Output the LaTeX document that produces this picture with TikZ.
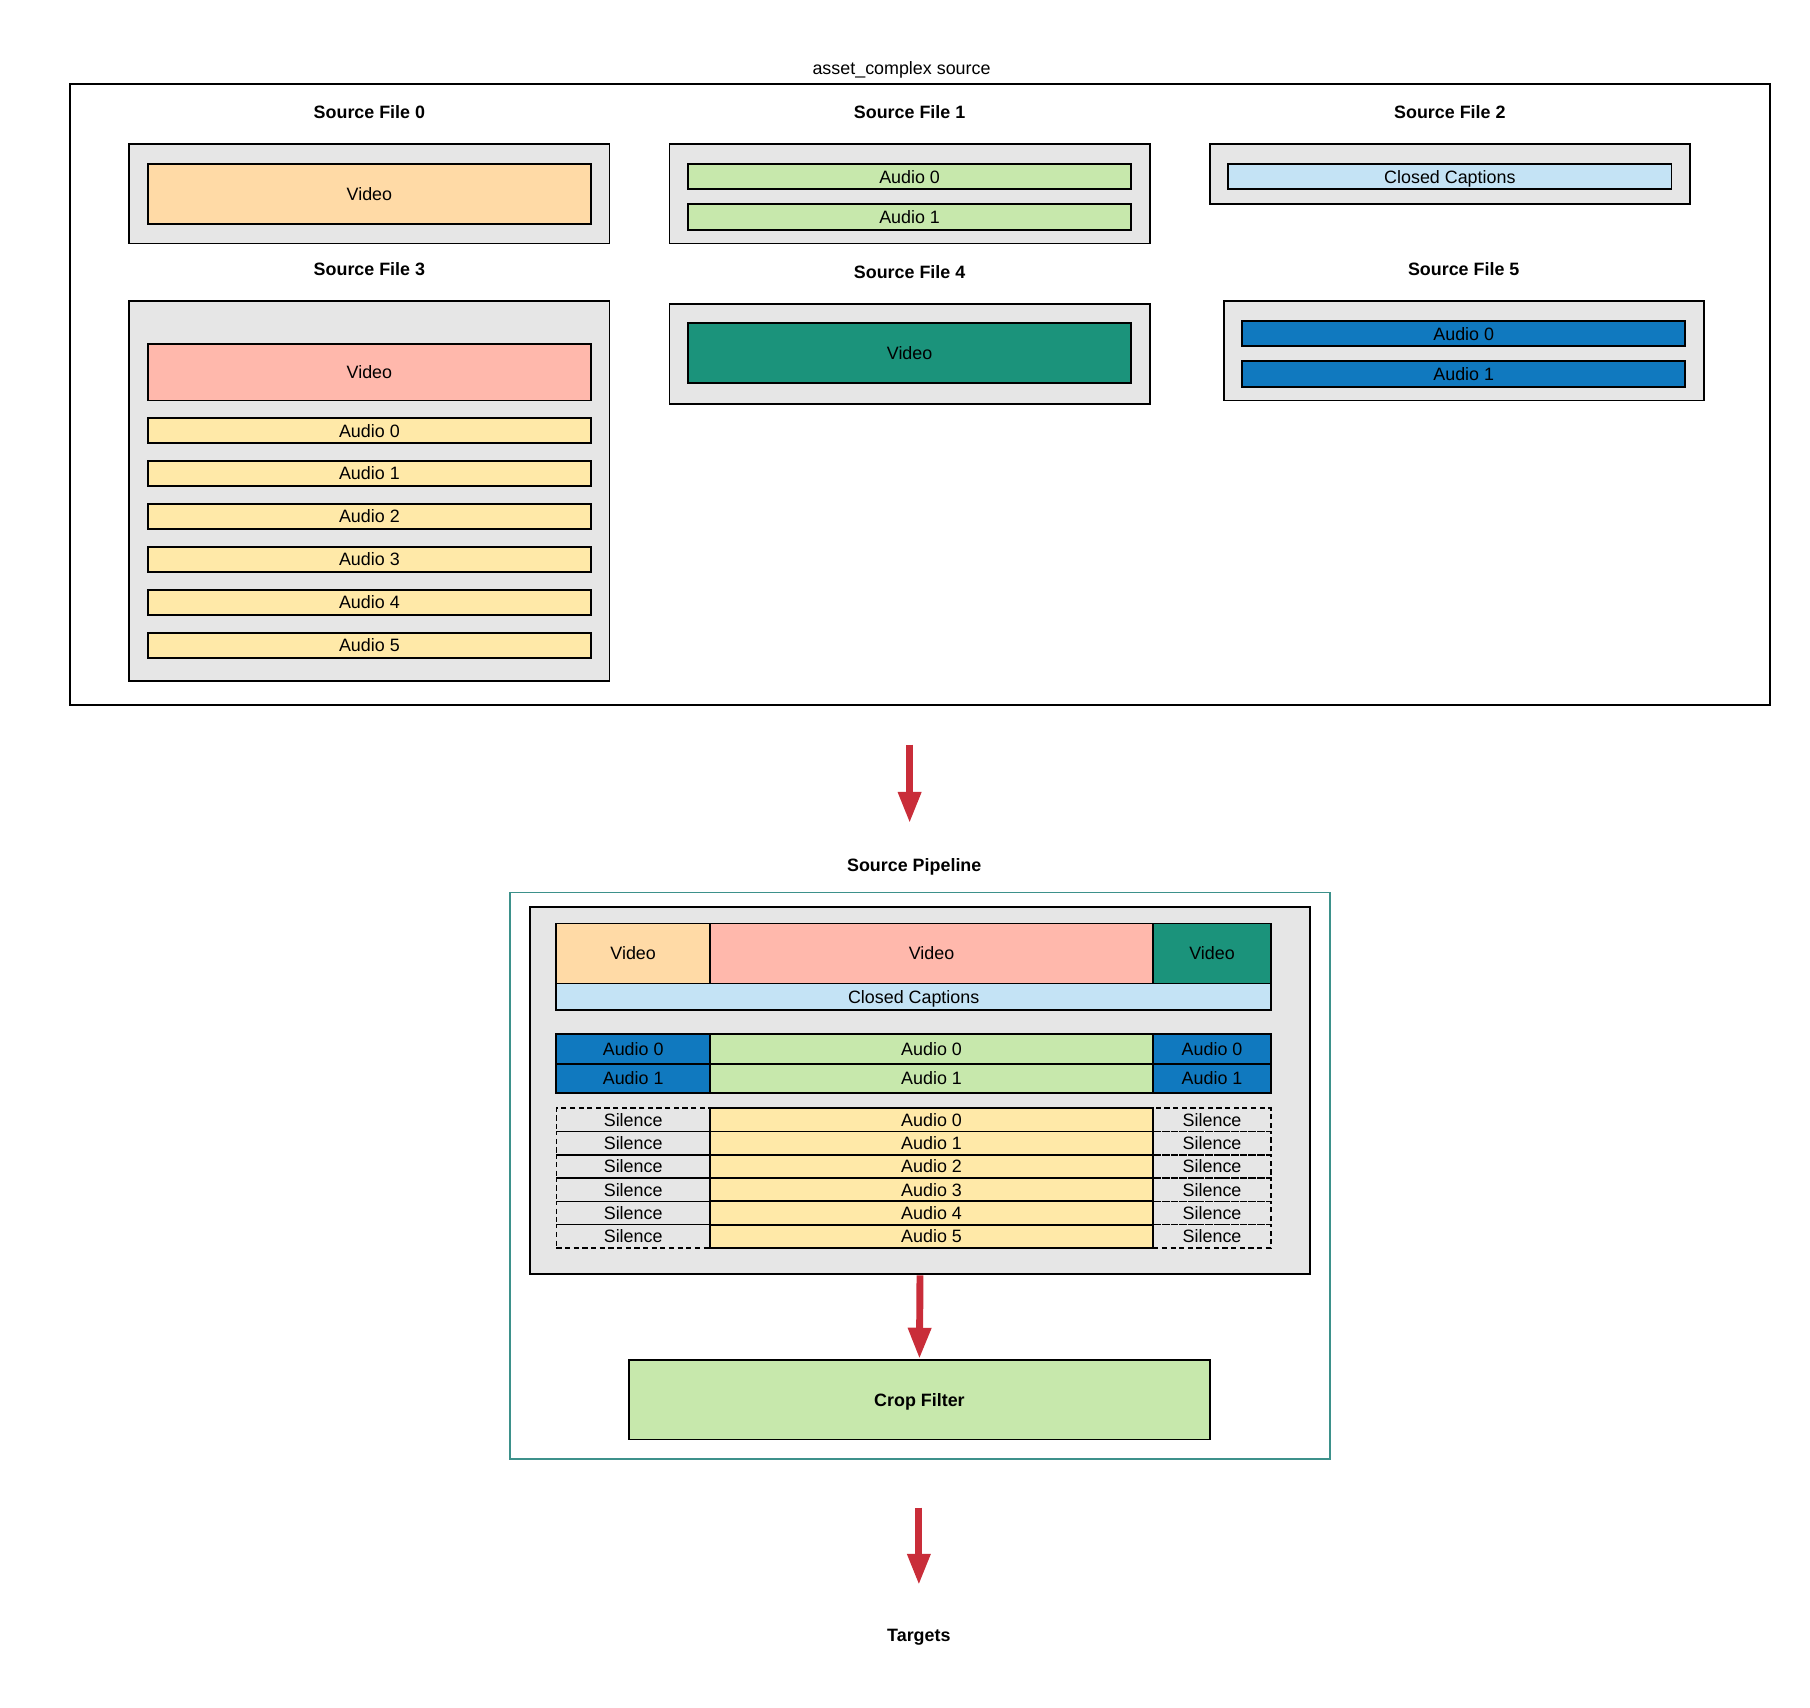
\documentclass[tikz,border=0pt]{standalone}
\usepackage{fontspec}
\setmainfont{Liberation Sans}
\usetikzlibrary{arrows.meta}
\definecolor{boxgray}{HTML}{E6E6E6}
\definecolor{vidorange}{HTML}{FFDAA6}
\definecolor{vidsalmon}{HTML}{FFB8AC}
\definecolor{vidteal}{HTML}{1B937B}
\definecolor{audgreen}{HTML}{C7E8AC}
\definecolor{audblue}{HTML}{1079BF}
\definecolor{audyellow}{HTML}{FFE9A8}
\definecolor{ccblue}{HTML}{C4E3F5}
\definecolor{arrowred}{HTML}{C92D39}
\definecolor{pipeteal}{HTML}{3D918B}
\tikzset{
  sfbox/.style={draw=black, fill=boxgray, line width=1.6pt, inner sep=0pt},
  sftrack/.style={draw=black, line width=1.6pt, inner sep=0pt, minimum height=22},
  sfsilence/.style={draw=black, line width=1.3pt, dash pattern=on 4.5pt off 3pt, inner sep=0pt, minimum height=20.17},
  sftitle/.style={font=\fontsize{15.5}{18}\selectfont\bfseries},
  redarrow/.style={draw=arrowred, line width=6pt, -{Triangle[width=19pt,length=27pt]}},
  every node/.style={font=\fontsize{15.5}{18}\selectfont, text depth=0pt}
}

\begin{document}
\begin{tikzpicture}[x=1pt,y=-1pt]
\useasboundingbox (0,0) rectangle (1568,1479);

\node (srctitle) at (781,59) {asset\_complex source};
\node[draw=black, line width=1.6pt, minimum width=1472, minimum height=538, inner sep=0pt] (src) at (797,342) {};

\node[sftitle] (sf0t) at (320,97) {Source File 0};
\node[sfbox, minimum width=416, minimum height=86] (sf0) at (320,168) {};
\node[sftrack, fill=vidorange, minimum width=384, minimum height=52] (sf0v) at (320,168) {Video};

\node[sftitle] (sf1t) at (788,97) {Source File 1};
\node[sfbox, minimum width=416, minimum height=86] (sf1) at (788,168) {};
\node[sftrack, fill=audgreen, minimum width=384] (sf1a0) at (788,153) {Audio 0};
\node[sftrack, fill=audgreen, minimum width=384] (sf1a1) at (788,188) {Audio 1};

\node[sftitle] (sf2t) at (1256,97) {Source File 2};
\node[sfbox, minimum width=416, minimum height=52] (sf2) at (1256,151) {};
\node[sftrack, fill=ccblue, minimum width=384] (sf2cc) at (1256,153) {Closed Captions};

\node[sftitle] (sf3t) at (320,233) {Source File 3};
\node[sfbox, minimum width=416, minimum height=329] (sf3) at (320,425.5) {};
\node[sftrack, fill=vidsalmon, minimum width=384, minimum height=49] (sf3v) at (320,322.5) {Video};
\foreach \i/\y in {0/373,1/410.2,2/447.4,3/484.6,4/521.8,5/559}
  \node[sftrack, fill=audyellow, minimum width=384] (sf3a\i) at (320,\y) {Audio \i};

\node[sftitle] (sf4t) at (788,236) {Source File 4};
\node[sfbox, minimum width=416, minimum height=87] (sf4) at (788,306.5) {};
\node[sftrack, fill=vidteal, minimum width=384, minimum height=52] (sf4v) at (788,306) {Video};

\node[sftitle] (sf5t) at (1268,233) {Source File 5};
\node[sfbox, minimum width=416, minimum height=86] (sf5) at (1268,304) {};
\node[sftrack, fill=audblue, minimum width=384] (sf5a0) at (1268,289) {Audio 0};
\node[sftrack, fill=audblue, minimum width=384] (sf5a1) at (1268,324) {Audio 1};

\coordinate (a1s) at (788,645);
\coordinate (a1e) at (788,713);
\draw[redarrow] (a1s) -- (a1e);

\node[sftitle] (pipet) at (792,749) {Source Pipeline};
\node[draw=pipeteal, line width=1.4pt, minimum width=710, minimum height=491, inner sep=0pt] (pipeline) at (797,1018.5) {};
\node[sfbox, minimum width=676, minimum height=318] (pipe) at (797,945) {};

\node[sftrack, fill=vidorange, minimum width=133, minimum height=52] (pv0) at (548.5,826) {Video};
\node[sftrack, fill=vidsalmon, minimum width=384, minimum height=52] (pv3) at (807,826) {Video};
\node[sftrack, fill=vidteal, minimum width=102, minimum height=52] (pv4) at (1050,826) {Video};
\node[sftrack, fill=ccblue, minimum width=619, minimum height=23] (pcc) at (791.5,863.5) {Closed Captions};

\foreach \i/\y in {0/908.75,1/934.25} {
  \node[sftrack, fill=audblue, minimum width=133, minimum height=25.5] (pl\i) at (548.5,\y) {Audio \i};
  \node[sftrack, fill=audgreen, minimum width=384, minimum height=25.5] (pm\i) at (807,\y) {Audio \i};
  \node[sftrack, fill=audblue, minimum width=102, minimum height=25.5] (pr\i) at (1050,\y) {Audio \i};
}

\foreach \i in {0,...,5} {
  \pgfmathsetmacro\yy{970.1+20.17*\i}
  \node[sfsilence, minimum width=133] (sl\i) at (548.5,\yy) {Silence};
  \node[sfsilence, minimum width=102] (sr\i) at (1050,\yy) {Silence};
  \node[sftrack, fill=audyellow, minimum width=384, minimum height=20.17] (pa\i) at (807,\yy) {Audio \i};
}

\node[sftrack, fill=audgreen, minimum width=503, minimum height=69, font=\fontsize{15.5}{18}\selectfont\bfseries] (crop) at (796.5,1212.5) {Crop Filter};
\draw[redarrow] (pipe.south) -- (crop.north);

\coordinate (a3s) at (796,1306);
\coordinate (a3e) at (796,1373);
\draw[redarrow] (a3s) -- (a3e);
\node[sftitle] (targets) at (796,1417) {Targets};
\end{tikzpicture}
\end{document}
